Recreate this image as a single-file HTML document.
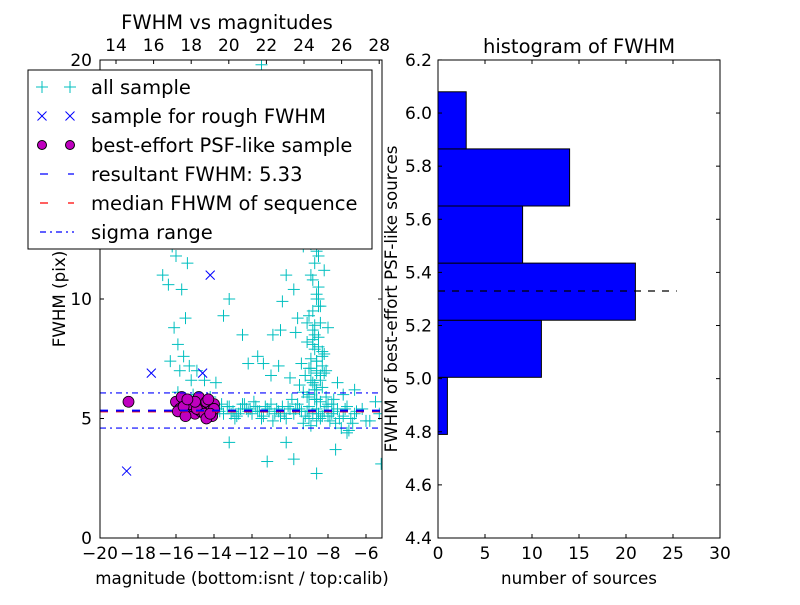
<!DOCTYPE html>
<html><head><meta charset="utf-8"><style>
body{margin:0;background:#fff}
svg text{font-family:"DejaVu Sans","Liberation Sans",sans-serif;fill:#000}
</style></head><body>
<svg id="chart" width="800" height="600" xmlns="http://www.w3.org/2000/svg">
<rect width="800" height="600" fill="#fff"/>
<g id="left"></g><g id="right"></g>
</svg>
<script>
const magAll=[-13.8,-13.5,-13.2,-13,-12.8,-12.6,-12.4,-12.2,-12,-11.8,-11.6,-11.4,-11.2,-11,-10.8,-10.6,-10.4,-10.2,-10,-9.8,-9.6,-9.4,-9.2,-9,-8.8,-8.6,-8.4,-8.2,-8,-7.8,-7.5,-7.2,-7,-6.8,-6.5,-13.6,-12.9,-11.9,-10.9,-9.9,-9.3,-8.7,-8.9,-7.9,-7.3,-6.9,
-13.7,-13.3,-12.7,-12.3,-11.7,-11.3,-10.7,-10.3,-9.7,-9.1,-8.5,-8.1,-7.7,-7.1,-6.6,-6.2,-13.1,-12.1,-11.1,-10.1,-9.5,-8.3,-7.4,-6.7,-12.5,-11.5,-10.5,-9.0,-8.6,-8.0,-7.6,-5.8,
-9,-8.8,-8.6,-8.9,-8.5,-8.7,-8.4,-8.8,-8.6,-8.5,-8.9,-8.7,-8.6,-8.8,-8.5,-9.2,-9.4,-9.1,-8.3,-8.2,-8.1,-9.6,-9.8,-9.5,-8.0,-8.9,-9.3,-10.2,-10.4,-9.7,-10.6,-11,-10.9,-7.5,-7.2,-6.6,-5.5,-6,-7,-7.6,-8.6,-9.8,-10.2,-11.2,-13.2,-5.2,-5.3,
-8.7,-8.4,-8.9,-8.6,-8.3,-8.8,-8.5,-8.7,-9.0,-8.4,-8.6,-8.8,-8.2,-8.5,-8.9,-8.7,-8.4,-8.6,-8.3,-8.8,-9.1,-8.5,-8.7,-8.6,
-16.7,-16.2,-15.8,-16.0,-15.7,-15.5,-15.4,-16.1,-15.9,-15.6,-16.3,-15.3,-15.2,-15.1,-15.9,-14.5,-14.2,-13.5,-13.2,-12.5,-12.2,-11.7,-11.4,-10.5,-10,-15.8,-16.4,-14.9,-13.9,
-9,-8.7,-8.5,-9.2,-8.8,-11.5,-8.4,-8.3,-8.6,-9.1,-8.9,-8.7,-8.2,-9.0,-8.6,-8.8,-8.5,-9.3,-8.1,-7.8,-8.6,-9.0,-8.4,-7.7];
const fwhmAll=[5.4,5.2,5.5,5.3,5.1,5.4,5.6,5.3,5.2,5.5,5.3,5.1,5.4,5.6,5.2,5.3,5.5,5.0,5.4,5.2,5.6,5.3,5.1,5.5,5.2,5.4,5.0,5.3,5.6,5.2,5.4,5.1,5.5,5.0,5.3,5.6,5.0,5.7,4.9,5.8,4.8,5.8,4.7,4.9,4.6,4.5,
5.3,5.5,5.2,5.4,5.3,5.5,5.4,5.2,5.4,5.3,5.2,5.5,5.3,5.4,5.2,5.4,5.2,5.4,5.3,5.5,5.4,5.1,5.0,4.8,5.6,5.0,5.1,5.0,4.9,5.1,4.8,4.9,
6,6.5,7,7.5,8,8.5,9,9.5,10,10.5,11,11.5,12,12.5,13,6.8,7.3,8.2,6.3,7.7,5.9,9.2,10.4,6.4,8.8,13.6,12.2,11,9.9,8.6,7.2,6.8,8.5,6.5,6.0,6.2,5.7,4.9,4.4,3.7,2.7,3.3,4.0,3.2,4.0,3.1,5.2,
6.2,6.6,7.1,7.4,7.8,8.1,8.4,8.9,9.3,9.7,10.2,10.8,11.2,11.8,12.3,12.9,13.3,6.9,7.6,8.7,9.0,10.0,6.4,5.8,
11,12.2,12.8,11.8,10.4,9.2,11.5,8.8,8.1,7.6,7.4,7.2,6.6,6.0,6.1,6.6,5.9,9.3,10.0,8.5,7.3,7.6,7.3,8.7,6.7,7.0,10.6,7.0,6.5,
14.5,15.5,16.5,17.5,18.5,19.8,6.8,7.2,6.2,5.9,6.6,7.9,6.9,7.1,7.4,8.3,9.7,6.1,7.0,5.6,5.8,5.9,5.7,5.8];
const magRough=[-18.6,-17.3,-14.6,-14.2];
const fwhmRough=[2.8,6.9,6.9,11.0];
const magBest=[-18.5,-16.0,-15.8,-15.6,-15.4,-15.2,-15.0,-14.8,-14.6,-14.4,-14.2,-14.0,-15.9,-15.5,-15.1,-14.7,-14.3,-14.1,-15.7,-15.3,-14.9,-14.5,-14.0,-15.6,-15.0,-14.4,-14.2,-15.4];
const fwhmBest=[5.7,5.7,5.4,5.8,5.3,5.6,5.2,5.9,5.4,5.7,5.3,5.6,5.3,5.1,5.5,5.3,5.8,5.1,5.9,5.6,5.4,5.2,5.4,5.5,5.7,5.0,5.2,5.8];
const resultFWHM=5.33, medianFWHM=5.30, sigLo=4.6, sigHi=6.07;
const xTicksBottom=[-20,-18,-16,-14,-12,-10,-8,-6];
const xTicksTop=[14,16,18,20,22,24,26,28];
const yTicksLeft=[0,5,10,20];
const binEdges=[4.79,5.005,5.22,5.435,5.65,5.865,6.08];
const binCounts=[1,11,21,9,14,3];
const histYTicks=[4.4,4.6,4.8,5.0,5.2,5.4,5.6,5.8,6.0,6.2];
const histXTicks=[0,5,10,15,20,25,30];
const histMedianLen=25.4;

const NS="http://www.w3.org/2000/svg";
function mk(p,tag,a){const e=document.createElementNS(NS,tag);for(const k in a)e.setAttribute(k,a[k]);p.appendChild(e);return e;}
function txt(p,x,y,s,size,anchor,extra){const t=mk(p,'text',Object.assign({x:x,y:y,'font-size':size,'text-anchor':anchor||'middle'},extra||{}));t.textContent=s;return t;}

const L={x0:100,x1:382,y0:60,y1:538};
const lx=v=>L.x0+(v+20)*19;
const ltx=v=>116+(v-14)*18.8;
const ly=v=>L.y1-v*23.9;
const gl=document.getElementById('left');
function plus(p,x,y,c){const g=mk(p,'g',{});mk(g,'line',{x1:x-6,y1:y,x2:x+6,y2:y,stroke:c,'stroke-width':1});mk(g,'line',{x1:x,y1:y-6,x2:x,y2:y+6,stroke:c,'stroke-width':1});return g;}
function cross(p,x,y,c){const g=mk(p,'g',{});mk(g,'line',{x1:x-4.5,y1:y-4.5,x2:x+4.5,y2:y+4.5,stroke:c});mk(g,'line',{x1:x-4.5,y1:y+4.5,x2:x+4.5,y2:y-4.5,stroke:c});return g;}
const clipL=mk(gl,'clipPath',{id:'cl'});mk(clipL,'rect',{x:L.x0,y:L.y0,width:L.x1-L.x0,height:L.y1-L.y0});
const plot=mk(gl,'g',{'clip-path':'url(#cl)'});
for(let i=0;i<magAll.length;i++){const m=plus(plot,lx(magAll[i]),ly(fwhmAll[i]),'#00bfbf');

}
for(let i=0;i<magRough.length;i++){const m=cross(plot,lx(magRough[i]),ly(fwhmRough[i]),'#0000ff');

}
for(let i=0;i<magBest.length;i++){const m=mk(plot,'circle',{cx:lx(magBest[i]),cy:ly(fwhmBest[i]),r:5.5,fill:'#bf00bf',stroke:'#000','stroke-width':0.8});

}
let ln=mk(plot,'line',{x1:L.x0,x2:L.x1,y1:ly(medianFWHM),y2:ly(medianFWHM),stroke:'#ff0000','stroke-width':2,'stroke-dasharray':'8,8'});

ln=mk(plot,'line',{x1:L.x0,x2:L.x1,y1:ly(resultFWHM),y2:ly(resultFWHM),stroke:'#0000ff','stroke-width':2,'stroke-dasharray':'8,8'});

[sigLo,sigHi].forEach(v=>{const s=mk(plot,'line',{x1:L.x0,x2:L.x1,y1:ly(v),y2:ly(v),stroke:'#0000ff','stroke-width':1.2,'stroke-dasharray':'6,4,2,4'});

});
mk(gl,'rect',{x:L.x0,y:L.y0,width:L.x1-L.x0,height:L.y1-L.y0,fill:'none',stroke:'#000'});
xTicksBottom.forEach(v=>{const x=lx(v);mk(gl,'line',{x1:x,x2:x,y1:L.y1,y2:L.y1-4,stroke:'#000'});const t=txt(gl,x,L.y1+21,'\u2212'+(-v),17);
});
xTicksTop.forEach(v=>{const x=ltx(v);mk(gl,'line',{x1:x,x2:x,y1:L.y0,y2:L.y0+4,stroke:'#000'});const t=txt(gl,x,L.y0-9,String(v),17);
});
yTicksLeft.forEach(v=>{const y=ly(v);mk(gl,'line',{x1:L.x0,x2:L.x0+4,y1:y,y2:y,stroke:'#000'});mk(gl,'line',{x1:L.x1,x2:L.x1-4,y1:y,y2:y,stroke:'#000'});const t=txt(gl,L.x0-8,y+6,String(v),17,'end');
});
let t=txt(gl,227,29,'FWHM vs magnitudes',19.5);
t=txt(gl,242,584,'magnitude (bottom:isnt / top:calib)',16.7);
t=txt(gl,0,0,'FWHM (pix)',16.7,'middle',{transform:'translate(65,299) rotate(-90)'});
const lg=mk(gl,'g',{});
mk(lg,'rect',{x:28,y:70,width:344,height:179,fill:'#fff',stroke:'#000'});
const labels=['all sample','sample for rough FWHM','best-effort PSF-like sample','resultant FWHM: 5.33','median FHWM of sequence','sigma range'];
labels.forEach((s,i)=>{const y=87+i*29;const e=mk(lg,'g',{});
if(i==0){plus(e,42,y,'#00bfbf');plus(e,70,y,'#00bfbf');}
if(i==1){cross(e,42,y,'#0000ff');cross(e,70,y,'#0000ff');}
if(i==2){mk(e,'circle',{cx:42,cy:y,r:4.5,fill:'#bf00bf',stroke:'#000'});mk(e,'circle',{cx:70,cy:y,r:4.5,fill:'#bf00bf',stroke:'#000'});}
if(i==3)mk(e,'line',{x1:40,x2:74,y1:y,y2:y,stroke:'#0000ff','stroke-width':1.3,'stroke-dasharray':'8,20'});
if(i==4)mk(e,'line',{x1:40,x2:74,y1:y,y2:y,stroke:'#ff0000','stroke-width':1.3,'stroke-dasharray':'8,20'});
if(i==5)mk(e,'line',{x1:40,x2:74,y1:y,y2:y,stroke:'#0000ff','stroke-width':1.2,'stroke-dasharray':'6,4,2,4'});
txt(e,91,y+7,s,19.5,'start');});

const R={x0:438,x1:720,y0:60,y1:538};
const rx=v=>R.x0+v*9.4;
const ry=v=>R.y1-(v-4.4)*265.6;
const gr=document.getElementById('right');
for(let i=0;i<binCounts.length;i++){const b=mk(gr,'rect',{x:rx(0),y:ry(binEdges[i+1]),width:rx(binCounts[i])-rx(0),height:ry(binEdges[i])-ry(binEdges[i+1]),fill:'#0000ff',stroke:'#000'});

}
ln=mk(gr,'line',{x1:rx(0),x2:rx(histMedianLen),y1:ry(resultFWHM),y2:ry(resultFWHM),stroke:'#000','stroke-width':1.2,'stroke-dasharray':'7,7'});

mk(gr,'rect',{x:R.x0,y:R.y0,width:R.x1-R.x0,height:R.y1-R.y0,fill:'none',stroke:'#000'});
histXTicks.forEach(v=>{const x=rx(v);mk(gr,'line',{x1:x,x2:x,y1:R.y1,y2:R.y1-4,stroke:'#000'});mk(gr,'line',{x1:x,x2:x,y1:R.y0,y2:R.y0+4,stroke:'#000'});const k=txt(gr,x,R.y1+21,String(v),17);
});
histYTicks.forEach(v=>{const y=ry(v);mk(gr,'line',{x1:R.x0,x2:R.x0+4,y1:y,y2:y,stroke:'#000'});mk(gr,'line',{x1:R.x1,x2:R.x1-4,y1:y,y2:y,stroke:'#000'});const k=txt(gr,R.x0-6,y+6,v.toFixed(1),17,'end');
});
t=txt(gr,579,53,'histogram of FWHM',19.5);
t=txt(gr,579,584,'number of sources',16.7);
t=txt(gr,0,0,'FWHM of best-effort PSF-like sources',16.7,'middle',{transform:'translate(397,299) rotate(-90)'});
</script>
</body></html>
